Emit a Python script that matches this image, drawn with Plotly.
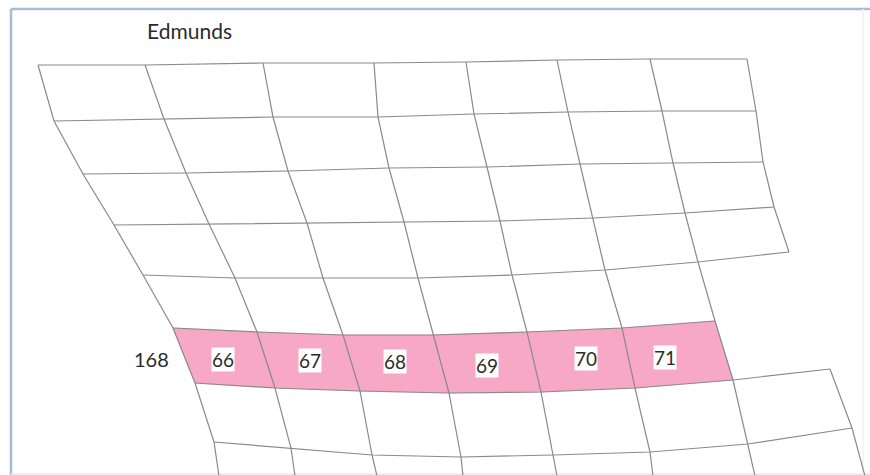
import plotly.graph_objects as go

# ---- data: grid vertices (pixel-like map coordinates), None = no vertex ----
grid_x = [
    [38, 145, 263, 374, 466, 557, 650, 747],
    [54, 164, 273, 378, 474, 568, 662, 756],
    [83, 186, 288, 389, 487, 580, 673, 763],
    [114, 209, 307, 404, 500, 593, 685, 774],
    [143, 235, 323, 418, 512, 605, 698, 789],
    [173, 257, 343, 433, 527, 622, 715, None],
    [195, 275, 360, 449, 541, 635, 733, 830],
    [214, 291, 372, 461, 553, 650, 748, 852],
    [219, 295, 377, 463, 557, 653, 755, 865],
]
grid_y = [
    [65, 65, 63, 63, 62, 60, 59, 59],
    [121, 119, 117, 117, 114, 112, 111, 111],
    [174, 173, 171, 168, 167, 164, 163, 162],
    [225, 224, 223, 222, 221, 218, 213, 207],
    [275, 278, 278, 278, 275, 270, 262, 252],
    [328, 332, 335, 335, 332, 328, 321, None],
    [383, 388, 391, 393, 392, 388, 380, 369],
    [442, 448, 455, 457, 455, 452, 444, 428],
    [476, 476, 476, 476, 476, 476, 476, 476],
]
highlight_row = 5          # band between grid row-line 5 and 6
cell_labels = ["66", "67", "68", "69", "70", "71"]
row_label = "168"
title_text = "Edmunds"

# ---- styling ----
label_dx = [-2, 1, -1, -1, 5, -11]
label_dy = [2, -1, -2, 2, -2, 3]
GRID_COLOR = "#8a8a8a"
PINK = "#f7a8c5"
FONT = "Lato"
TEXT_COLOR = "#2b2b2b"
W, H = 870, 475

nrows = len(grid_x)
ncols = len(grid_x[0])


def flush(run, lx, ly):
    if len(run) > 1:
        lx += [p[0] for p in run] + [None]
        ly += [p[1] for p in run] + [None]


lx, ly = [], []
for r in range(nrows - 1):  # bottom row is the clip edge, no line there
    run = []
    for c in range(ncols):
        if grid_x[r][c] is not None:
            run.append((grid_x[r][c], grid_y[r][c]))
        else:
            flush(run, lx, ly)
            run = []
    flush(run, lx, ly)
for c in range(ncols):
    run = []
    for r in range(nrows):
        if grid_x[r][c] is not None:
            run.append((grid_x[r][c], grid_y[r][c]))
        else:
            flush(run, lx, ly)
            run = []
    flush(run, lx, ly)

# highlighted band polygon
r0, r1 = highlight_row, highlight_row + 1
ncell = len(cell_labels)
px = grid_x[r0][:ncell + 1] + grid_x[r1][:ncell + 1][::-1]
py = grid_y[r0][:ncell + 1] + grid_y[r1][:ncell + 1][::-1]

fig = go.Figure()
fig.add_trace(go.Scatter(x=px + [px[0]], y=py + [py[0]], fill="toself",
                         fillcolor=PINK, mode="lines",
                         line=dict(color=PINK, width=0.5), hoverinfo="skip"))
fig.add_trace(go.Scatter(x=lx, y=ly, mode="lines",
                         line=dict(color=GRID_COLOR, width=1.2), hoverinfo="skip"))

annotations = []
for i, lab in enumerate(cell_labels):
    cx = (grid_x[r0][i] + grid_x[r0][i + 1] + grid_x[r1][i] + grid_x[r1][i + 1]) / 4
    cy = (grid_y[r0][i] + grid_y[r0][i + 1] + grid_y[r1][i] + grid_y[r1][i + 1]) / 4
    annotations.append(dict(x=cx + label_dx[i], y=cy + label_dy[i], text=lab,
                            showarrow=False, bgcolor="white", borderpad=0,
                            font=dict(family=FONT, size=19, color=TEXT_COLOR)))
mx = (grid_x[r0][0] + grid_x[r1][0]) / 2
my = (grid_y[r0][0] + grid_y[r1][0]) / 2
annotations.append(dict(x=mx - 13, y=my + 3, text=row_label, showarrow=False,
                        xanchor="right",
                        font=dict(family=FONT, size=20, color=TEXT_COLOR)))
annotations.append(dict(x=145, y=30, text=title_text, showarrow=False,
                        xanchor="left",
                        font=dict(family=FONT, size=21, color=TEXT_COLOR)))

fig.update_layout(
    width=W, height=H,
    margin=dict(l=0, r=0, t=0, b=0),
    paper_bgcolor="white", plot_bgcolor="white",
    showlegend=False,
    xaxis=dict(range=[0, W], visible=False, fixedrange=True),
    yaxis=dict(range=[H, 0], visible=False, fixedrange=True),
    annotations=annotations,
    shapes=[
        dict(type="line", x0=11, y0=9, x1=870, y1=9,
             line=dict(color="#a9bcd6", width=2.5), layer="below"),
        dict(type="line", x0=11, y0=9, x1=11, y1=475,
             line=dict(color="#a9bcd6", width=2.5), layer="below"),
        dict(type="line", x0=863, y0=9, x1=863, y1=475,
             line=dict(color="#eef2f8", width=1.5), layer="below"),
        dict(type="line", x0=11, y0=474, x1=870, y1=474,
             line=dict(color="#e4ebf4", width=1.5), layer="below"),
    ],
)

fig.write_html(
    "out.html",
    config={"displayModeBar": False},
    post_script="document.body.style.margin='0';document.body.style.overflow='hidden';",
)
